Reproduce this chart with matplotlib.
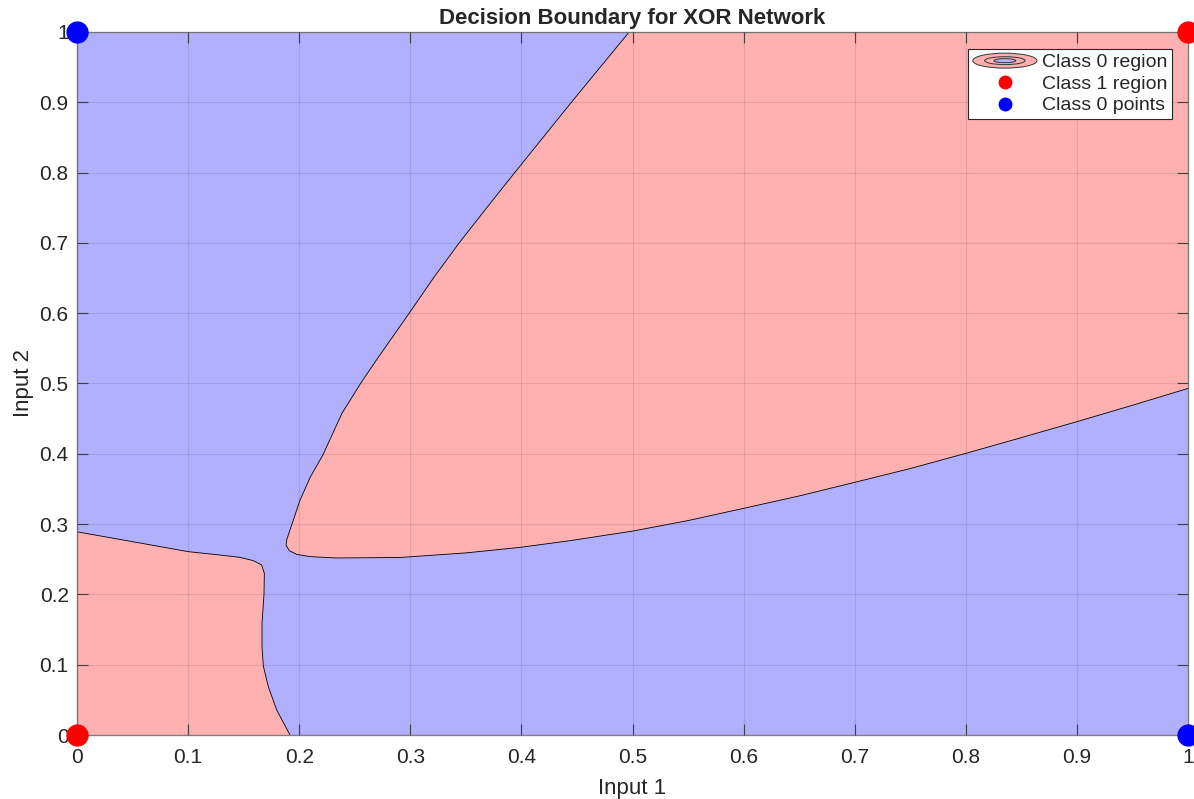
import matplotlib
matplotlib.use("Agg")
import matplotlib.pyplot as plt
import numpy as np
from matplotlib.patches import Ellipse, Patch
from matplotlib.legend_handler import HandlerBase
from matplotlib.lines import Line2D

plt.rcParams['font.family'] = ['Liberation Sans', 'DejaVu Sans']

# boundary of the upper red region (top edge -> tip)
upper_left_x = [0.497, 0.471, 0.445, 0.4195, 0.394, 0.3688, 0.344, 0.3208,
                0.299, 0.2695, 0.2552, 0.2385, 0.2212, 0.2102, 0.2007,
                0.1932, 0.1887, 0.1881]
upper_left_y = [1.0, 0.95, 0.9, 0.85, 0.8, 0.75, 0.7, 0.65,
                0.6, 0.5334, 0.5, 0.4576, 0.398, 0.3675, 0.334,
                0.2987, 0.2774, 0.2703]
# tip -> right edge
upper_low_x = [0.1911, 0.1977, 0.2097, 0.2337, 0.2907, 0.35, 0.3994, 0.4437,
               0.5, 0.55, 0.6, 0.65, 0.7, 0.75, 0.8, 0.85, 0.9, 0.95, 1.0]
upper_low_y = [0.2622, 0.2570, 0.2537, 0.2518, 0.2525, 0.259, 0.267, 0.2764,
               0.290, 0.305, 0.3224, 0.340, 0.3594, 0.379, 0.4006, 0.423,
               0.4457, 0.469, 0.493]

# boundary of the lower-left red region (left edge -> bottom edge)
lower_x = [0.0, 0.0447, 0.1, 0.1287, 0.1467, 0.1587, 0.1662, 0.1686, 0.1683,
           0.1665, 0.1665, 0.1677, 0.1722, 0.1797, 0.1917]
lower_y = [0.289, 0.2765, 0.2608, 0.256, 0.2527, 0.248, 0.2418, 0.230, 0.2,
           0.1589, 0.1256, 0.0981, 0.0687, 0.0356, 0.0]

# training points
class1_x = [0, 1]
class1_y = [0, 1]
class0_x = [0, 1]
class0_y = [1, 0]

XLIM = (0, 1)
YLIM = (0, 1)
ticks = np.arange(0, 1.01, 0.1)
tick_labels = ['0', '0.1', '0.2', '0.3', '0.4', '0.5', '0.6', '0.7', '0.8', '0.9', '1']

RED = (1.0, 0.69, 0.69)
BLUE = (0.69, 0.69, 1.0)


class ContourHandler(HandlerBase):
    """legend icon that looks like little nested contour rings"""
    def create_artists(self, legend, orig_handle, xdescent, ydescent,
                       width, height, fontsize, trans):
        cx = width / 2 - xdescent
        cy = height / 2 - ydescent
        arts = []
        for w, h, fc in [(width, height * 1.1, RED),
                         (width * 0.63, height * 0.58, RED),
                         (width * 0.34, height * 0.3, BLUE)]:
            arts.append(Ellipse((cx, cy), w, h, facecolor=fc, edgecolor='#333333',
                                lw=0.7, transform=trans))
        return arts


fig = plt.figure(figsize=(11.94, 7.99), dpi=100)
ax = fig.add_axes([0.0645, 0.0801, 0.9305, 0.8799])
ax.set_facecolor(BLUE)

# red regions
ux = upper_left_x + upper_low_x + [XLIM[1]]
uy = upper_left_y + upper_low_y + [YLIM[1]]
ax.fill(ux, uy, color=RED, lw=0)
lx = lower_x + [XLIM[0]]
ly = lower_y + [YLIM[0]]
ax.fill(lx, ly, color=RED, lw=0)

# boundary lines
ax.plot(upper_left_x + upper_low_x, upper_left_y + upper_low_y, color='k', lw=0.6)
ax.plot(lower_x, lower_y, color='k', lw=0.6)

ax.plot(class1_x, class1_y, 'o', color='red', markersize=15, clip_on=False, zorder=5)
ax.plot(class0_x, class0_y, 'o', color='blue', markersize=15, clip_on=False, zorder=5)

ax.set_xlim(*XLIM)
ax.set_ylim(*YLIM)
ax.set_xticks(ticks)
ax.set_xticklabels(tick_labels)
ax.set_yticks(ticks)
ax.set_yticklabels(tick_labels)
ax.tick_params(direction='in', length=8, width=0.8, color='#404040',
               labelsize=15, labelcolor='#262626', top=True, right=True)
ax.tick_params(axis='x', pad=9)
ax.tick_params(axis='y', pad=6)
ax.grid(True, color='#262626', alpha=0.12, lw=0.8)
ax.set_axisbelow(False)
for s in ax.spines.values():
    s.set_color('#808080')
    s.set_linewidth(1.0)

ax.set_xlabel('Input 1', fontsize=16, color='#262626', labelpad=8)
ax.set_ylabel('Input 2', fontsize=16, color='#262626', labelpad=4)
ax.set_title('Decision Boundary for XOR Network', fontsize=16, fontweight='bold',
             color='#262626', pad=6)

handles = [Patch(facecolor=RED),
           Line2D([], [], ls='none', marker='o', color='red', markersize=9),
           Line2D([], [], ls='none', marker='o', color='blue', markersize=9)]
labels = ['Class 0 region', 'Class 1 region', 'Class 0 points']
leg = ax.legend(handles, labels, loc='upper right', fontsize=14,
                handler_map={Patch: ContourHandler()},
                handlelength=3.3, handletextpad=0.25, borderpad=0.25,
                labelspacing=0.2, borderaxespad=0.0,
                bbox_to_anchor=(0.9856, 0.9758), fancybox=False, framealpha=1,
                edgecolor='#262626')
leg.get_frame().set_linewidth(0.8)
for t in leg.get_texts():
    t.set_color('#262626')

plt.savefig('out.png', dpi=100)
plt.close()
